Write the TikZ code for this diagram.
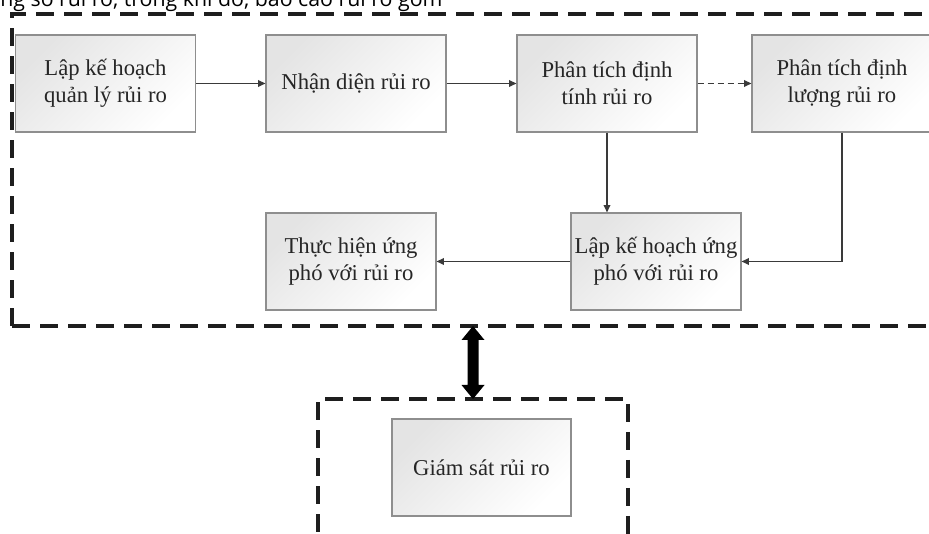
\documentclass[tikz,border=0pt]{standalone}
\usepackage{fontspec}
\setmainfont{Liberation Serif}
\newfontfamily\topfont{Open Sans}
\usetikzlibrary{arrows.meta,calc}
\definecolor{boxedge}{HTML}{8E8E8E}
\definecolor{boxtop}{HTML}{E4E4E4}
\definecolor{lineclr}{HTML}{3A3A3A}
\definecolor{dashclr}{HTML}{1E1E1E}
\tikzset{
  stepbox/.style={draw=boxedge, line width=0.9pt, top color=boxtop, bottom color=white, shading angle=45,
    minimum height=72.75pt, inner sep=0pt, align=center, font=\fontsize{17}{20}\selectfont, text=black!85},
  wide/.style={minimum width=135pt},
  narrow/.style={minimum width=127.5pt},
  flow/.style={draw=lineclr, line width=1.1pt, -{Triangle[length=5.5pt,width=5pt]}},
  flowdash/.style={flow, dash pattern=on 5pt off 2.5pt},
  groupline/.style={draw=dashclr, line width=2.4pt, dash pattern=on 13.5pt off 7.5pt}
}
\begin{document}
\begin{tikzpicture}[x=0.75pt,y=-0.75pt]
\useasboundingbox (0,0) rectangle (929,534);
\clip (0,0) rectangle (929,534);
\fill[white] (0,0) rectangle (929,534);
% clipped caption text at the top
\node[anchor=base west, inner sep=0pt, font=\topfont\fontsize{16}{19}\selectfont] (cap) at (0,7) {ng số rủi ro, trong khi đó, báo cáo rủi ro gồm};
% group frames
\draw[groupline] (12,326) -- (12,14) -- (960,14);
\draw[groupline] (12,326) -- (960,326);
\draw[groupline] (318,560) -- (318,399) -- (628,399) -- (628,560);
% boxes
\node[stepbox,wide] (plan) at (105.5,83.5) {Lập kế hoạch\\quản lý rủi ro};
\node[stepbox,wide] (ident) at (356,83.5) {Nhận diện rủi ro};
\node[stepbox,wide] (qual) at (607,83.5) {Phân tích định\\tính rủi ro};
\node[stepbox,wide] (quant) at (842,83.5) {Phân tích định\\lượng rủi ro};
\node[stepbox,narrow] (resp) at (656,261.5) {Lập kế hoạch ứng\\phó với rủi ro};
\node[stepbox,narrow] (impl) at (351,261.5) {Thực hiện ứng\\phó với rủi ro};
\node[stepbox,minimum width=134.25pt] (mon) at (481.5,467.5) {Giám sát rủi ro};
% connectors
\draw[flow] (plan) -- (ident);
\draw[flow] (ident) -- (qual);
\draw[flowdash] (qual) -- (quant);
\draw[flow] (qual.south) -- (qual.south |- resp.north);
\draw[flow] (quant.south) |- (resp.east);
\draw[flow] (resp) -- (impl);
% thick double arrow between the two frames
\coordinate (mt) at (473,326);
\coordinate (mb) at (473,399);
\fill[black] (mt) -- ++(11.5,14) -- ++(-6,0) -- ($(mb)+(5.5,-14)$) -- ++(6,0) -- (mb)
  -- ++(-11.5,-14) -- ++(6,0) -- ($(mt)+(-5.5,14)$) -- ++(-6,0) -- cycle;
\end{tikzpicture}
\end{document}
